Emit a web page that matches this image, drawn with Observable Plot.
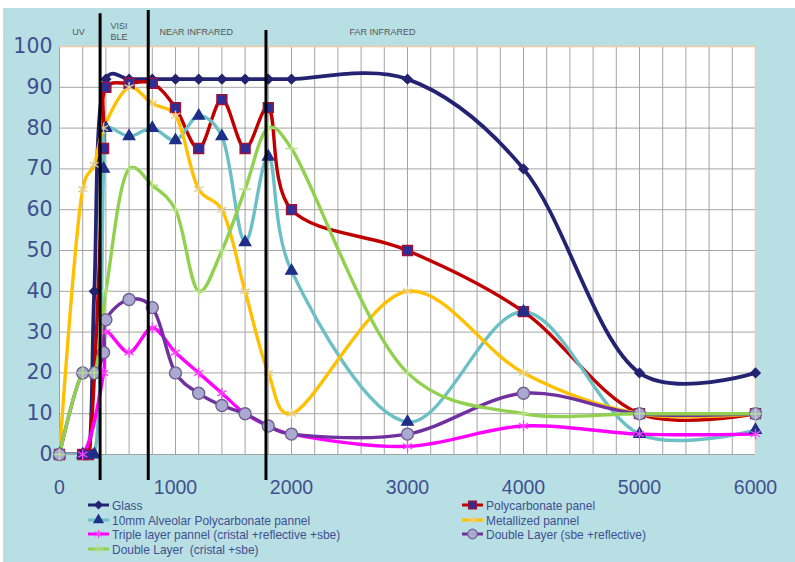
<!DOCTYPE html>
<html>
<head>
<meta charset="utf-8">
<script src="https://cdn.jsdelivr.net/npm/d3@7"></script>
<script src="https://cdn.jsdelivr.net/npm/@observablehq/plot@0.6"></script>
<style>
  html, body { margin: 0; padding: 0; background: #ffffff; }
  #panel { position: absolute; left: 3px; top: 8px; width: 792px; height: 554px; background: #b8e0e4; overflow: hidden; }
  #chart svg { display: block; }
  #legend { position: absolute; left: 0; top: 488px; width: 792px; height: 66px;
            font-family: "Liberation Sans", Arial, sans-serif; font-size: 13px; color: #3f4f8f; }
  .item { position: absolute; display: flex; align-items: center; white-space: pre; height: 14px; }
  .item svg { margin-right: 3px; flex: none; }
  .item span { display: inline-block; transform: scaleX(0.92); transform-origin: left center; }
</style>
</head>
<body>
<div id="panel">
  <div id="chart"></div>
  <div id="legend"></div>
</div>
<script>
// ---- data ----
const xs       = [0, 200, 250, 300, 380, 400, 600, 800, 1000, 1200, 1400, 1600, 1800, 2000, 3000, 4000, 5000, 6000];
const glass    = [0, 0, 0, 40, null, 92, 92, 92, 92, 92, 92, 92, 92, 92, 92, 70, 20, 20];
const poly     = [0, 0, 0, null, 75, 90, 91, 91, 85, 75, 87, 75, 85, 60, 50, 35, 10, 10];
const alveolar = [0, 0, null, 0, 70, 80, 78, 80, 77, 83, 78, 52, 73, 45, 8, 35, 5, 6];
const metal    = [0, 65, null, 71, 80, null, 90, 86, 83, 65, 60, 40, 20, 10, 40, 20, 10, 10];
const triple   = [0, 0, null, null, 20, 30, 25, 31, 25, 20, 15, 10, 7, 5, 2, 7, 5, 5];
const dblSbe   = [0, 20, null, 20, 25, 33, 38, 36, 20, 15, 12, 10, 7, 5, 5, 15, 10, 10];
const dblCris  = [0, 20, null, 20, null, 40, 70, 66, 60, 40, 50, 65, 80, 75, 20, 10, 10, 10];

const seriesNames = ["Glass", "Polycarbonate panel", "10mm Alveolar Polycarbonate pannel", "Metallized pannel",
                     "Triple layer pannel (cristal +reflective +sbe)", "Double Layer (sbe +reflective)", "Double Layer  (cristal +sbe)"];
const xTicks = [0, 1000, 2000, 3000, 4000, 5000, 6000];
const yTicks = [0, 10, 20, 30, 40, 50, 60, 70, 80, 90, 100];
const bandLabels = ["UV", "VISI\nBLE", "NEAR INFRARED", "FAR INFRARED"];
const bandX = [110, 440, 862, 2500];
const dividerX = [350, 765, 1780];
const dividerTop = [108, 108.8, 103.9];

// ---- styles ----
const styles = [
  {values: glass,    stroke: "#232372", width: 3.8, symbol: "diamond2", r: 4.2, fill: "#232372", mstroke: "#232372"},
  {values: poly,     stroke: "#c00000", width: 3.4, symbol: "square",   r: 5.6, fill: "#2e2e96", mstroke: "#a0103a"},
  {values: alveolar, stroke: "#6cc0c5", width: 3.4, symbol: "triangle", r: 4.2, fill: "#1f2f88", mstroke: "#1f2f88"},
  {values: metal,    stroke: "#ffc000", width: 3.4, symbol: "asterisk", r: 5,   fill: "none",    mstroke: "#e6cf8a"},
  {values: triple,   stroke: "#ff00ff", width: 3.4, symbol: "asterisk", r: 5,   fill: "none",    mstroke: "#ff40ff"},
  {values: dblSbe,   stroke: "#7030a0", width: 3.4, symbol: "circle",   r: 6,   fill: "#a9a9d2", mstroke: "#6f6090"},
  {values: dblCris,  stroke: "#92d050", width: 3.4, symbol: "plus",     r: 4,   fill: "none",    mstroke: "#b8e090"}
];

const rows = s => xs.map((x, i) => ({x, y: s.values[i]})).filter(d => d.y != null);
const smooth = d3.curveCatmullRom.alpha(0.3);

const marks = [
  Plot.frame({fill: "white"}),
  Plot.gridX(d3.range(0, 6001, 200), {stroke: "#9a9a9a", strokeOpacity: 1, strokeWidth: 0.9}),
  Plot.gridY(yTicks, {stroke: "#9a9a9a", strokeOpacity: 1, strokeWidth: 0.9}),
  Plot.ruleX([6000], {stroke: "#f3c8a4", strokeWidth: 1.5}),
  Plot.ruleY([100], {stroke: "#f3c8a4", strokeWidth: 1.5}),
  Plot.axisX({ticks: xTicks, tickSize: 0, tickPadding: 26, fontSize: 19.5, fill: "#3f4f8f", label: null, tickFormat: d => String(d)}),
  Plot.axisY({ticks: yTicks, tickSize: 0, tickPadding: 7, fontSize: 20.5, fill: "#3f4f8f", label: null, fontFamily: "'DejaVu Sans', sans-serif"})
];
for (const s of styles) {
  marks.push(Plot.line(rows(s), {x: "x", y: "y", stroke: s.stroke, strokeWidth: s.width, curve: smooth, clip: "frame"}));
}
for (const s of styles) {
  marks.push(Plot.dot(rows(s), {x: "x", y: "y", symbol: () => s.symbol, r: s.r, fill: s.fill, stroke: s.mstroke, strokeWidth: 1.4}));
}
marks.push(Plot.ruleX(dividerX.map((x, i) => ({x, top: dividerTop[i]})), {x: "x", y1: "top", y2: -6.4, stroke: "black", strokeWidth: 3}));
marks.push(Plot.text(bandLabels.map((t, i) => ({t, x: bandX[i]})), {
  x: "x", y: 103.7, text: "t", textAnchor: "start", fill: "#555", fontSize: 9, lineHeight: 1.2,
  fontFamily: "'Liberation Sans', Arial, sans-serif"
}));

const chart = Plot.plot({
  width: 792, height: 500,
  marginLeft: 56, marginRight: 40, marginTop: 38, marginBottom: 54,
  x: {domain: [0, 6000]},
  y: {domain: [0, 100]},
  style: {background: "transparent", fontFamily: "'Liberation Sans', Arial, sans-serif"},
  marks
});
document.getElementById("chart").appendChild(chart);

// ---- legend ----
const legendPos = [[85, 9], [459, 9], [85, 24], [459, 24], [85, 38], [459, 38], [85, 53]];
const legend = document.getElementById("legend");
const symbolTypes = {diamond2: d3.symbolDiamond2, square: d3.symbolSquare, triangle: d3.symbolTriangle,
                     asterisk: d3.symbolAsterisk, circle: d3.symbolCircle, plus: d3.symbolPlus};
styles.forEach((s, i) => {
  const div = document.createElement("div");
  div.className = "item";
  div.style.left = legendPos[i][0] + "px";
  div.style.top = (legendPos[i][1] - 7) + "px";
  const svg = d3.create("svg").attr("width", 21).attr("height", 14);
  svg.append("line").attr("x1", 0).attr("x2", 21).attr("y1", 7).attr("y2", 7).attr("stroke", s.stroke).attr("stroke-width", 3);
  const path = d3.symbol(symbolTypes[s.symbol], Math.PI * (s.r * 0.8) ** 2)();
  svg.append("path").attr("d", path).attr("transform", "translate(10.5,7)")
    .attr("fill", s.fill).attr("stroke", s.mstroke).attr("stroke-width", 1.2);
  div.appendChild(svg.node());
  const span = document.createElement("span");
  span.textContent = seriesNames[i];
  div.appendChild(span);
  legend.appendChild(div);
});
</script>
</body>
</html>
